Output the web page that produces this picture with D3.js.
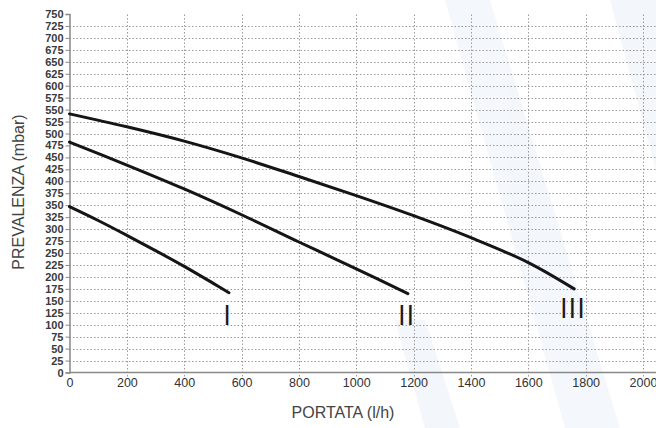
<!DOCTYPE html>
<html>
<head>
<meta charset="utf-8">
<script src="https://cdn.jsdelivr.net/npm/d3@7"></script>
<style>
  html, body { margin: 0; padding: 0; background: #fff; }
  svg { display: block; font-family: "Liberation Sans", Arial, sans-serif; }
</style>
</head>
<body>
<div id="chart"></div>
<script>
const width = 656;
const height = 428;

// Flow (l/h) vs head (mbar) for the three pump speeds
const curveI = [[0, 347], [100, 318], [200, 287], [300, 255], [400, 222], [500, 187], [556, 167]];
const curveII = [[0, 482], [200, 434], [400, 384], [600, 330], [800, 273], [1000, 217], [1180, 165]];
const curveIII = [[0, 541], [200, 514], [400, 484], [600, 449], [800, 410], [1000, 370], [1200, 328], [1400, 282], [1600, 230], [1760, 175]];
const speedNames = ['I', 'II', 'III'];
const labelAt = [[556, 100], [1180, 100], [1760, 115]]; // label foot, in data units

const xTicks = d3.range(0, 2001, 200);
const yTicks = d3.range(0, 751, 25);

const x = d3.scaleLinear().domain([0, 2000]).range([69.5, 643]);
const y = d3.scaleLinear().domain([0, 750]).range([372.5, 14]);

const svg = d3.select('#chart').append('svg')
  .attr('width', width)
  .attr('height', height);

// faint watermark bands in the background
const wm = svg.append('g').attr('fill', '#f1f5fa').attr('opacity', 0.8);
wm.append('path').attr('d', 'M445,0 L490,0 L620,428 L565,428 Z');
wm.append('path').attr('d', 'M610,0 L656,0 L656,170 Z');
wm.append('path').attr('d', 'M395,320 L425,320 L460,428 L425,428 Z');

// Horizontal dotted grid
svg.append('g')
  .selectAll('line')
  .data(yTicks.filter(d => d > 0 && d < 750))
  .join('line')
  .attr('x1', x(0))
  .attr('x2', width)
  .attr('y1', d => Math.round(y(d)) + 0.5)
  .attr('y2', d => Math.round(y(d)) + 0.5)
  .attr('stroke', '#9a9a9a')
  .attr('stroke-width', 1)
  .attr('stroke-dasharray', '1.5,2');

// Vertical dotted grid
svg.append('g')
  .selectAll('line')
  .data(xTicks.filter(d => d > 0))
  .join('line')
  .attr('x1', d => Math.round(x(d)) + 0.5)
  .attr('x2', d => Math.round(x(d)) + 0.5)
  .attr('y1', y(0) + 4)
  .attr('y2', y(750))
  .attr('stroke', '#9a9a9a')
  .attr('stroke-width', 1)
  .attr('stroke-dasharray', '1.5,2');

// Axes
const yAxis = svg.append('g')
  .attr('transform', `translate(${x(0)},0)`)
  .call(d3.axisLeft(y).tickValues(yTicks).tickSize(4).tickPadding(2));
yAxis.select('.domain').attr('stroke', '#888').attr('stroke-width', 1.5);
yAxis.selectAll('.tick line').attr('stroke', '#888');
yAxis.selectAll('.tick text')
  .attr('font-family', '"Liberation Sans", Arial, sans-serif')
  .attr('font-size', 11)
  .attr('font-weight', 'bold')
  .attr('fill', '#3a3a3a');

const xAxis = svg.append('g')
  .attr('transform', `translate(0,${y(0)})`)
  .call(d3.axisBottom(x).tickValues(xTicks).tickFormat(d3.format('d')).tickSize(0).tickPadding(6));
xAxis.select('.domain').remove();
xAxis.append('line')
  .attr('x1', x(0)).attr('x2', width)
  .attr('stroke', '#888').attr('stroke-width', 1.5);
xAxis.selectAll('.tick text')
  .attr('font-family', '"Liberation Sans", Arial, sans-serif')
  .attr('font-size', 12.5)
  .attr('fill', '#333');

// Axis titles
svg.append('text')
  .attr('x', 343)
  .attr('y', 418)
  .attr('text-anchor', 'middle')
  .attr('font-size', 16)
  .attr('fill', '#444')
  .text('PORTATA (l/h)');

svg.append('text')
  .attr('transform', 'translate(24,192) rotate(-90)')
  .attr('text-anchor', 'middle')
  .attr('font-size', 16)
  .attr('fill', '#444')
  .text('PREVALENZA (mbar)');

// Pump curves
const line = d3.line()
  .x(d => x(d[0]))
  .y(d => y(d[1]))
  .curve(d3.curveCatmullRom);

svg.append('g')
  .selectAll('path')
  .data([curveI, curveII, curveIII])
  .join('path')
  .attr('d', line)
  .attr('fill', 'none')
  .attr('stroke', '#151515')
  .attr('stroke-width', 3)
  .attr('stroke-linecap', 'round');

// Speed labels (roman numerals)
svg.append('g')
  .selectAll('text')
  .data(speedNames)
  .join('text')
  .attr('x', (d, i) => x(labelAt[i][0]) - 1)
  .attr('y', (d, i) => y(labelAt[i][1]))
  .attr('text-anchor', 'middle')
  .attr('font-family', '"DejaVu Sans Condensed", "DejaVu Sans", sans-serif')
  .attr('font-size', 27)
  .attr('letter-spacing', 1.5)
  .attr('fill', '#1a1a1a')
  .text(d => d);
</script>
</body>
</html>
